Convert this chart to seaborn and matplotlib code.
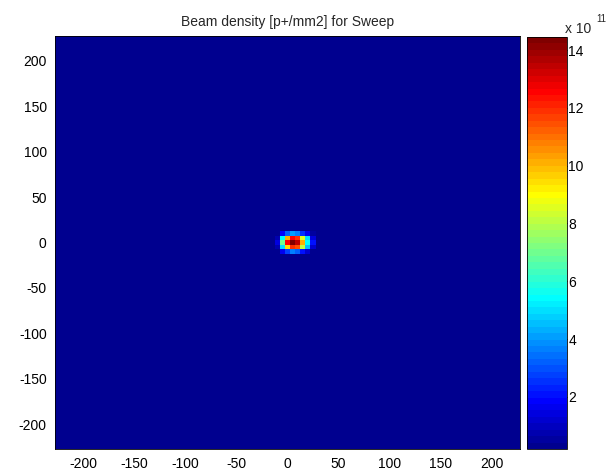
import numpy as np
import pandas as pd
import matplotlib
matplotlib.use("Agg")
import matplotlib.pyplot as plt
from matplotlib.colors import ListedColormap
import seaborn as sns

# ---------------- data ----------------
title = "Beam density [p+/mm2] for Sweep"
grid_step = 5
grid_half = 225
background = 0.2          # x 1e11, density outside the beam spot

spot_x = [-10, -5, 0, 5, 10, 15, 20, 25]
spot_y = [10, 5, 0, -5, -10]
spot_vals = [
    [0.3, 1.8, 3.2, 4.0, 3.6, 2.6, 1.6, 0.5],
    [0.8, 5.5, 10.0, 12.5, 12.0, 8.5, 5.0, 1.5],
    [1.5, 7.0, 12.5, 14.45, 13.5, 10.0, 5.5, 2.0],
    [0.8, 5.0, 9.5, 12.0, 11.5, 8.0, 4.5, 1.2],
    [0.3, 1.6, 2.8, 3.6, 3.2, 2.2, 1.3, 0.4],
]
tick_vals = [-200, -150, -100, -50, 0, 50, 100, 150, 200]
cbar_ticks = [2, 4, 6, 8, 10, 12, 14]
cbar_exponent = "11"


def matlab_jet(n=64):
    m = n // 4
    u = np.concatenate([np.arange(1, m + 1) / m, np.ones(m - 1), np.arange(m, 0, -1) / m])
    g = int(np.ceil(m / 2)) - (1 if n % 4 == 1 else 0) + np.arange(1, len(u) + 1)
    r = g + m
    b = g - m
    J = np.zeros((n, 3))
    mr = r <= n
    J[r[mr] - 1, 0] = u[mr]
    mg = g <= n
    J[g[mg] - 1, 1] = u[mg]
    mb = b >= 1
    J[b[mb] - 1, 2] = u[mb]
    return ListedColormap(J)


# ---------------- build grid ----------------
grid_x = np.arange(-grid_half, grid_half + 1, grid_step)
grid_y = grid_x[::-1]
grid = np.full((len(grid_y), len(grid_x)), background, dtype=float)
for i, yv in enumerate(spot_y):
    for j, xv in enumerate(spot_x):
        r = int(round((grid_half - yv) / grid_step))
        c = int(round((xv + grid_half) / grid_step))
        grid[r, c] = spot_vals[i][j]
df = pd.DataFrame(grid, index=grid_y, columns=grid_x)

# ---------------- plot ----------------
sns.set_style("white")
plt.rcParams["font.family"] = ["Liberation Sans", "DejaVu Sans"]

W, H = 610, 475
fig = plt.figure(figsize=(W / 100, H / 100), dpi=100)
ax = fig.add_axes([55 / W, 1 - 449 / H, 465 / W, 413 / H])
cax = fig.add_axes([527 / W, 1 - 449 / H, 40 / W, 412 / H])

cmap = matlab_jet(64)
sns.heatmap(df, ax=ax, cmap=cmap, vmin=grid.min(), vmax=grid.max(),
            cbar_ax=cax, xticklabels=False, yticklabels=False,
            linewidths=0, rasterized=True)

edge0 = -grid_half - grid_step / 2
ax.set_xticks([(v - edge0) / grid_step for v in tick_vals])
ax.set_xticklabels([str(v) for v in tick_vals])
ax.set_yticks([(grid_half + grid_step / 2 - v) / grid_step for v in tick_vals])
ax.set_yticklabels([str(v) for v in tick_vals], rotation=0)
ax.tick_params(axis="both", length=0, labelsize=10, colors="black")
ax.tick_params(axis="x", pad=6)
ax.tick_params(axis="y", pad=6)
ax.set_xlabel("")
ax.set_ylabel("")
for s in ax.spines.values():
    s.set_visible(True)
    s.set_color("black")
    s.set_linewidth(0.6)
ax.set_title(title, fontsize=10, pad=7)

cbar = ax.collections[0].colorbar
cbar.set_ticks(cbar_ticks)
cbar.set_ticklabels([str(t) for t in cbar_ticks])
cax.tick_params(direction="in", length=3, width=0.6, left=True, right=True,
                labelleft=False, labelright=True, labelsize=10, pad=1, colors="black")
cbar.outline.set_visible(True)
cbar.outline.set_edgecolor("black")
cbar.outline.set_linewidth(0.6)

fig.text(565 / W, 1 - 33 / H, "x 10", fontsize=10, va="baseline", ha="left")
fig.text(596 / W, 1 - 22 / H, cbar_exponent, fontsize=7, va="baseline", ha="left")

fig.savefig("out.png", dpi=100, facecolor="white")
